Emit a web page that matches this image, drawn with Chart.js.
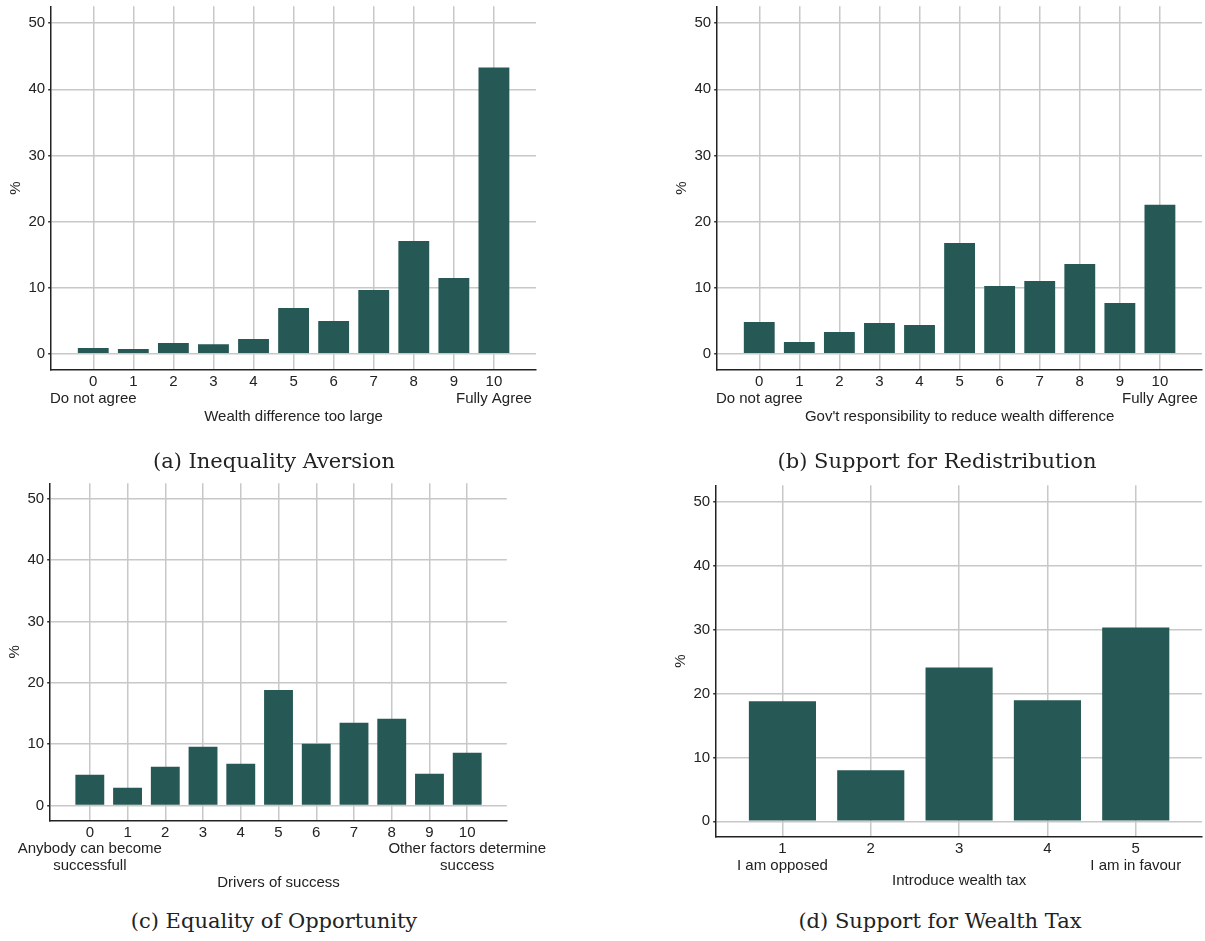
<!DOCTYPE html>
<html>
<head>
<meta charset="utf-8">
<script src="https://cdn.jsdelivr.net/npm/chart.js@4.4.1/dist/chart.umd.min.js"></script>
<style>
  body { margin: 0; background: #fff; }
  #page { position: relative; width: 1205px; height: 941px; overflow: hidden; }
  .panel { position: absolute; }
  .caption {
    position: absolute; width: 420px; text-align: center;
    font-family: "DejaVu Serif", "Liberation Serif", serif; font-size: 21px; color: #222;
    line-height: 24px;
  }
</style>
</head>
<body>
<div id="page">
  <canvas id="chartA" class="panel" style="left:0px;top:-5px" width="540" height="431"></canvas>
  <canvas id="chartB" class="panel" style="left:666px;top:-5px" width="539" height="431"></canvas>
  <canvas id="chartC" class="panel" style="left:0px;top:472px" width="550" height="422"></canvas>
  <canvas id="chartD" class="panel" style="left:665px;top:474px" width="540" height="419"></canvas>
  <div class="caption" style="left:64px;top:449px">(a) Inequality Aversion</div>
  <div class="caption" style="left:727px;top:449px">(b) Support for Redistribution</div>
  <div class="caption" style="left:64px;top:909px">(c) Equality of Opportunity</div>
  <div class="caption" style="left:730px;top:909px">(d) Support for Wealth Tax</div>
</div>
<script>
// answer scales
const elevenPoints = [0, 1, 2, 3, 4, 5, 6, 7, 8, 9, 10];
const fivePoints = [1, 2, 3, 4, 5];
const percentTicks = [0, 10, 20, 30, 40, 50];

// share of respondents (%)
const inequalityAversion = [0.86, 0.71, 1.62, 1.46, 2.22, 6.92, 4.95, 9.65, 17.07, 11.46, 43.28];
const redistribution = [4.8, 1.77, 3.28, 4.65, 4.34, 16.77, 10.25, 11.01, 13.59, 7.68, 22.53];
const opportunity = [4.99, 2.88, 6.3, 9.55, 6.79, 18.84, 10.04, 13.46, 14.12, 5.16, 8.58];
const wealthTax = [18.76, 8.0, 24.06, 18.92, 30.3];

const BAR = '#265955';
const GRID = '#c8c8c8';
const AXIS = '#222';
const FONT = { family: '"Liberation Sans", Arial, sans-serif', size: 15, lineHeight: 1.1 };

function makeChart(id, cats, values, opts) {
  const first = cats[0];
  const last = cats[cats.length - 1];
  return new Chart(document.getElementById(id), {
    type: 'bar',
    data: {
      datasets: [{
        data: cats.map((c, i) => ({ x: c, y: values[i] })),
        backgroundColor: BAR,
        borderWidth: 0,
        barPercentage: opts.barPct,
        categoryPercentage: 1,
      }],
    },
    options: {
      responsive: false,
      animation: false,
      devicePixelRatio: 1,
      layout: { padding: opts.padding },
      plugins: { legend: { display: false }, tooltip: { enabled: false } },
      scales: {
        x: {
          type: 'linear',
          min: opts.xMin,
          max: opts.xMax,
          offset: false,
          afterBuildTicks: (scale) => { scale.ticks = cats.map((v) => ({ value: v })); },
          grid: { offset: false, color: GRID, lineWidth: 1.5, drawTicks: false },
          border: { display: true, color: AXIS, width: 1.5 },
          ticks: {
            color: AXIS,
            font: FONT,
            padding: 4,
            maxRotation: 0,
            autoSkip: false,
            callback: (v) => {
              if (v === first) return [String(v), ...opts.low];
              if (v === last) return [String(v), ...opts.high];
              return String(v);
            },
          },
          title: { display: true, text: opts.title, color: AXIS, font: FONT, padding: { top: opts.titleGap, bottom: 0 } },
        },
        y: {
          min: -2.45,
          max: 52.55,
          afterBuildTicks: (scale) => { scale.ticks = percentTicks.map((v) => ({ value: v })); },
          grid: { color: GRID, lineWidth: 1.5, tickColor: '#333', tickLength: 3 },
          border: { display: true, color: AXIS, width: 1.5 },
          ticks: { color: AXIS, font: FONT, padding: 3 },
          title: { display: true, text: '%', color: AXIS, font: FONT, padding: { top: 4, bottom: 1 } },
        },
      },
    },
  });
}

makeChart('chartA', elevenPoints, inequalityAversion, {
  xMin: -1.05, xMax: 11.05, barPct: 0.77,
  low: ['Do not agree'], high: ['Fully Agree'],
  title: 'Wealth difference too large', titleGap: -2,
  padding: { left: 4, right: 4, top: 0, bottom: 0.5 },
});

makeChart('chartB', elevenPoints, redistribution, {
  xMin: -1.05, xMax: 11.05, barPct: 0.77,
  low: ['Do not agree'], high: ['Fully Agree'],
  title: "Gov't responsibility to reduce wealth difference", titleGap: -2,
  padding: { left: 4, right: 3, top: 0, bottom: 0.5 },
});

makeChart('chartC', elevenPoints, opportunity, {
  xMin: -1.05, xMax: 11.05, barPct: 0.765,
  low: ['Anybody can become', 'successfull'], high: ['Other factors determine', 'success'],
  title: 'Drivers of success', titleGap: -3.7,
  padding: { left: 3, right: 0, top: 0, bottom: 3.3 },
});

makeChart('chartD', fivePoints, wealthTax, {
  xMin: 0.25, xMax: 5.75, barPct: 0.76,
  low: ['I am opposed'], high: ['I am in favour'],
  title: 'Introduce wealth tax', titleGap: -5,
  padding: { left: 4, right: 3, top: 0, bottom: 3.5 },
});
</script>
</body>
</html>
